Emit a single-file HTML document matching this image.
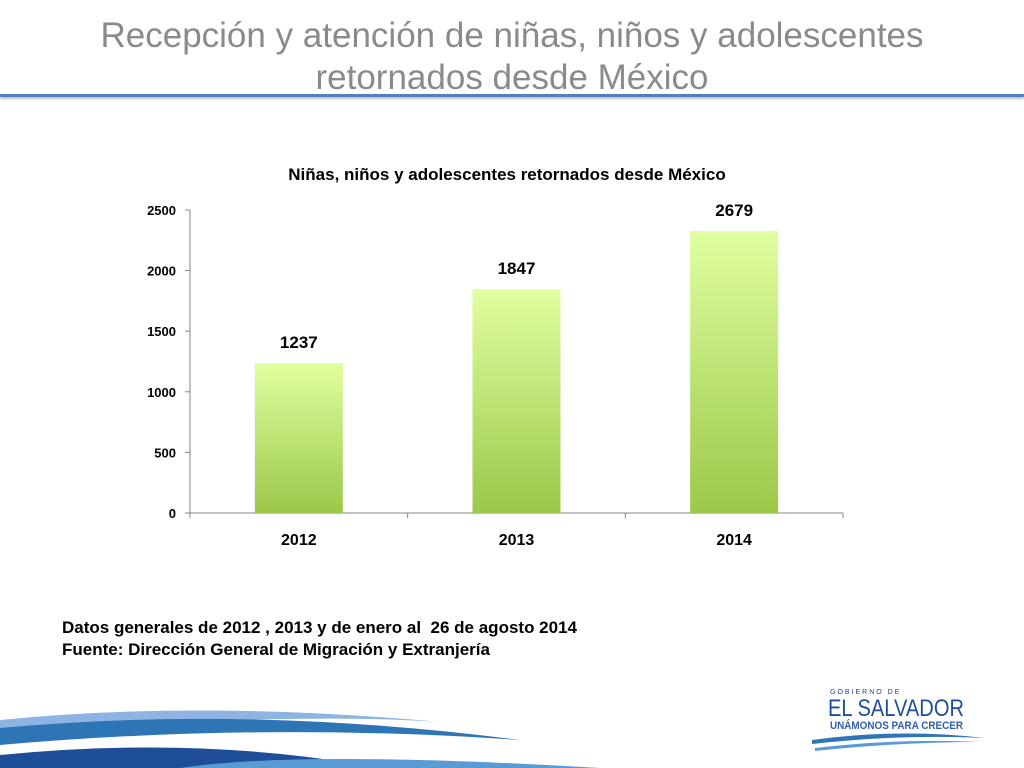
<!DOCTYPE html>
<html><head><meta charset="utf-8">
<style>
body{margin:0;width:1024px;height:768px;background:#fff;overflow:hidden;position:relative;font-family:"Liberation Sans",sans-serif}
#title{position:absolute;left:0;top:15px;width:1024px;text-align:center;color:#8a8a8a;font-size:35px;line-height:42px}
#rule{position:absolute;left:0;top:94px;width:1024px;height:3px;background:#4f81bd;box-shadow:0 2px 2px #bbb}
#note{position:absolute;left:62px;top:617px;font-size:17px;font-weight:bold;line-height:22px;color:#000}
</style></head><body>
<div id="title">Recepción y atención de niñas, niños y adolescentes<br>retornados desde México</div>
<div id="rule"></div>
<svg id="chart" width="1024" height="768" style="position:absolute;left:0;top:0">
<defs><linearGradient id="g" x1="0" y1="0" x2="0" y2="1"><stop offset="0" stop-color="#e0ffa0"/><stop offset="1" stop-color="#9bc84a"/></linearGradient></defs>
<text x="507" y="180" text-anchor="middle" font-size="17" font-weight="bold" fill="#000">Niñas, niños y adolescentes retornados desde México</text>
<g id="axes"></g><g id="bars"></g>
</svg>
<div id="note">Datos generales de 2012 , 2013 y de enero al&nbsp; 26 de agosto 2014<br>Fuente: Dirección General de Migración y Extranjería</div>
<svg width="1024" height="768" style="position:absolute;left:0;top:0">
<path d="M0 720 Q200 700 440 722 Q300 712 0 732Z" fill="#8db4e2"/>
<path d="M0 728 Q250 705 520 740 Q260 722 0 745Z" fill="#2e75b6"/>
<path d="M0 755 Q200 735 380 768 L0 768Z" fill="#1f4e99"/>
<path d="M180 768 Q300 750 600 768Z" fill="#5b9bd5"/>
<text x="830" y="694" font-size="7" letter-spacing="2" fill="#1f3f8f">GOBIERNO DE</text>
<text x="828" y="716" font-size="24" textLength="136" lengthAdjust="spacingAndGlyphs" fill="#1f4e99">EL SALVADOR</text>
<text x="830" y="729" font-size="11" font-weight="bold" textLength="133" lengthAdjust="spacingAndGlyphs" fill="#2e5fb0">UNÁMONOS PARA CRECER</text>
<path d="M812 740 Q900 728 985 738 Q900 734 812 744Z" fill="#2e75b6"/>
<path d="M815 748 Q900 738 980 742 Q900 742 815 751Z" fill="#5b9bd5"/>
</svg>
<script>
const categories=['2012','2013','2014'];
const values=[1237,1847,2327];
const valueLabels=['1237','1847','2679'];
const yTicks=[0,500,1000,1500,2000,2500];
const NS='http://www.w3.org/2000/svg';
const x0=190,x1=843,y0=513,y1=210,maxV=2500;
const y=v=>y0-(v/maxV)*(y0-y1);
const bw=(x1-x0)/categories.length;
const xc=i=>x0+bw*(i+0.5);
function mk(t,a,p){const e=document.createElementNS(NS,t);for(const k in a)e.setAttribute(k,a[k]);p.appendChild(e);return e;}
const ax=document.getElementById('axes'),bs=document.getElementById('bars');
let l=mk('line',{x1:x0,y1:y1,x2:x0,y2:y0,stroke:'#868686'},ax);


l=mk('line',{x1:x0,y1:y0,x2:x1,y2:y0,stroke:'#868686'},ax);


yTicks.forEach(v=>{
 mk('line',{x1:x0-5,y1:y(v),x2:x0,y2:y(v),stroke:'#868686'},ax);
 const t=mk('text',{x:x0-14,y:y(v)+5,'text-anchor':'end','font-size':13,'font-weight':'bold'},ax);
 t.textContent=v;
 
 
});
for(let i=0;i<=categories.length;i++)mk('line',{x1:x0+bw*i,y1:y0,x2:x0+bw*i,y2:y0+5,stroke:'#868686'},ax);
categories.forEach((c,i)=>{
 const w=88;
 const r=mk('rect',{x:xc(i)-w/2,y:y(values[i]),width:w,height:y0-y(values[i]),fill:'url(#g)'},bs);
 
 
 const t=mk('text',{x:xc(i),y:y(values[i])-15,'text-anchor':'middle','font-size':17,'font-weight':'bold'},bs);
 t.textContent=valueLabels[i];
 
 
 const xt=mk('text',{x:xc(i),y:545,'text-anchor':'middle','font-size':16,'font-weight':'bold'},ax);
 xt.textContent=c;
 
 
});
</script>
</body></html>
